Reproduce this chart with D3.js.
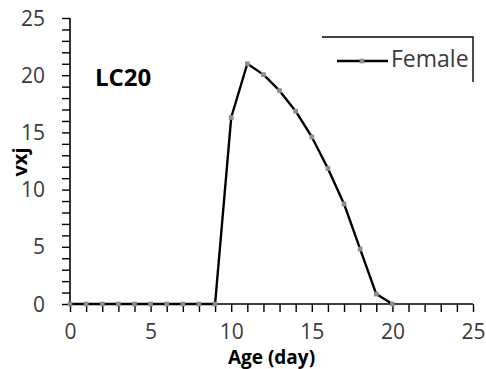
<!DOCTYPE html>
<html>
<head>
<meta charset="utf-8">
<script src="https://cdn.jsdelivr.net/npm/d3@7"></script>
<style>
  html, body { margin: 0; padding: 0; background: #fff; }
  svg { display: block; }
</style>
</head>
<body>
<svg id="chart" width="486" height="369"></svg>
<script>
// Age-specific values for the LC20 female cohort
const ages = [0, 1, 2, 3, 4, 5, 6, 7, 8, 9, 10, 11, 12, 13, 14, 15, 16, 17, 18, 19, 20];
const female = [0, 0, 0, 0, 0, 0, 0, 0, 0, 0, 16.3, 21.0, 20.05, 18.65, 16.85, 14.6, 11.85, 8.75, 4.8, 0.87, 0];
const xTicks = [0, 5, 10, 15, 20, 25];
const yTicks = [0, 5, 10, 15, 20, 25];
const seriesName = "Female";
const panelLabel = "LC20";
const xTitle = "Age (day)";
const yTitle = "vxj";

const svg = d3.select("#chart");
const font = "'Open Sans', 'Liberation Sans', sans-serif";
const labelColor = "#3a3a3a";

const x = d3.scaleLinear().domain([0, 25]).range([70, 473]);
const y = d3.scaleLinear().domain([0, 25]).range([304, 18]);

// Minor ticks every unit, labels only on multiples of five
const xAxis = d3.axisBottom(x).tickValues(d3.range(0, 26)).tickSize(8)
  .tickFormat(d => xTicks.includes(d) ? d : "");
const yAxis = d3.axisLeft(y).tickValues(d3.range(0, 26)).tickSize(8)
  .tickFormat(d => yTicks.includes(d) ? d : "");

const gx = svg.append("g").attr("transform", `translate(0,${y(0)})`).call(xAxis);
const gy = svg.append("g").attr("transform", `translate(${x(0)},0)`).call(yAxis);

[gx, gy].forEach(g => {
  g.select(".domain").attr("stroke", "#000").attr("stroke-width", 1.6)
    .attr("d", g === gx ? `M${x(0)},0H${x(25)}` : `M0,${y(0)}V${y(25)}`);
  g.selectAll(".tick line").attr("stroke", "#000").attr("stroke-width", 1.4);
  g.selectAll(".tick text").attr("fill", labelColor)
    .style("font-family", font).style("font-size", "21px");
});
gx.selectAll(".tick text").attr("y", 15).attr("dy", "0.95em");
gy.selectAll(".tick text").attr("x", -25).attr("dy", "0.34em");

// Series line
const line = d3.line().x((d, i) => x(ages[i])).y(d => y(d));
svg.append("path").datum(female)
  .attr("fill", "none").attr("stroke", "#000").attr("stroke-width", 2.4)
  .attr("stroke-linejoin", "round").attr("d", line);

// Markers
const marker = d3.symbol().type(d3.symbolSquare).size(22);
svg.append("g").selectAll("path").data(female).join("path")
  .attr("transform", (d, i) => `translate(${x(ages[i])},${y(d)})`)
  .attr("d", marker).attr("fill", "#8e8e8e");

// Panel label
svg.append("text").attr("x", 95).attr("y", 86)
  .style("font-family", font).style("font-size", "24px").style("font-weight", "bold")
  .attr("fill", "#000").text(panelLabel);

// Axis titles
svg.append("text").attr("x", (x(0) + x(25)) / 2).attr("y", 364).attr("text-anchor", "middle")
  .style("font-family", font).style("font-size", "19px").style("font-weight", "bold")
  .attr("fill", "#000").text(xTitle);
svg.append("text").attr("transform", "translate(27,162) rotate(-90)").attr("text-anchor", "middle")
  .style("font-family", font).style("font-size", "20px").style("font-weight", "bold")
  .attr("fill", "#000").text(yTitle);

// Legend frame (top and right edges) and entry
const lg = svg.append("g");
lg.append("path").attr("d", "M322,37H473V82").attr("fill", "none")
  .attr("stroke", "#000").attr("stroke-width", 1.4);
lg.append("line").attr("x1", 337).attr("x2", 388).attr("y1", 61).attr("y2", 61)
  .attr("stroke", "#000").attr("stroke-width", 2.4);
lg.append("path").attr("transform", "translate(362,61)").attr("d", marker).attr("fill", "#8e8e8e");
lg.append("text").attr("x", 391).attr("y", 67)
  .style("font-family", font).style("font-size", "23px")
  .attr("fill", labelColor).text(seriesName);
</script>
</body>
</html>
